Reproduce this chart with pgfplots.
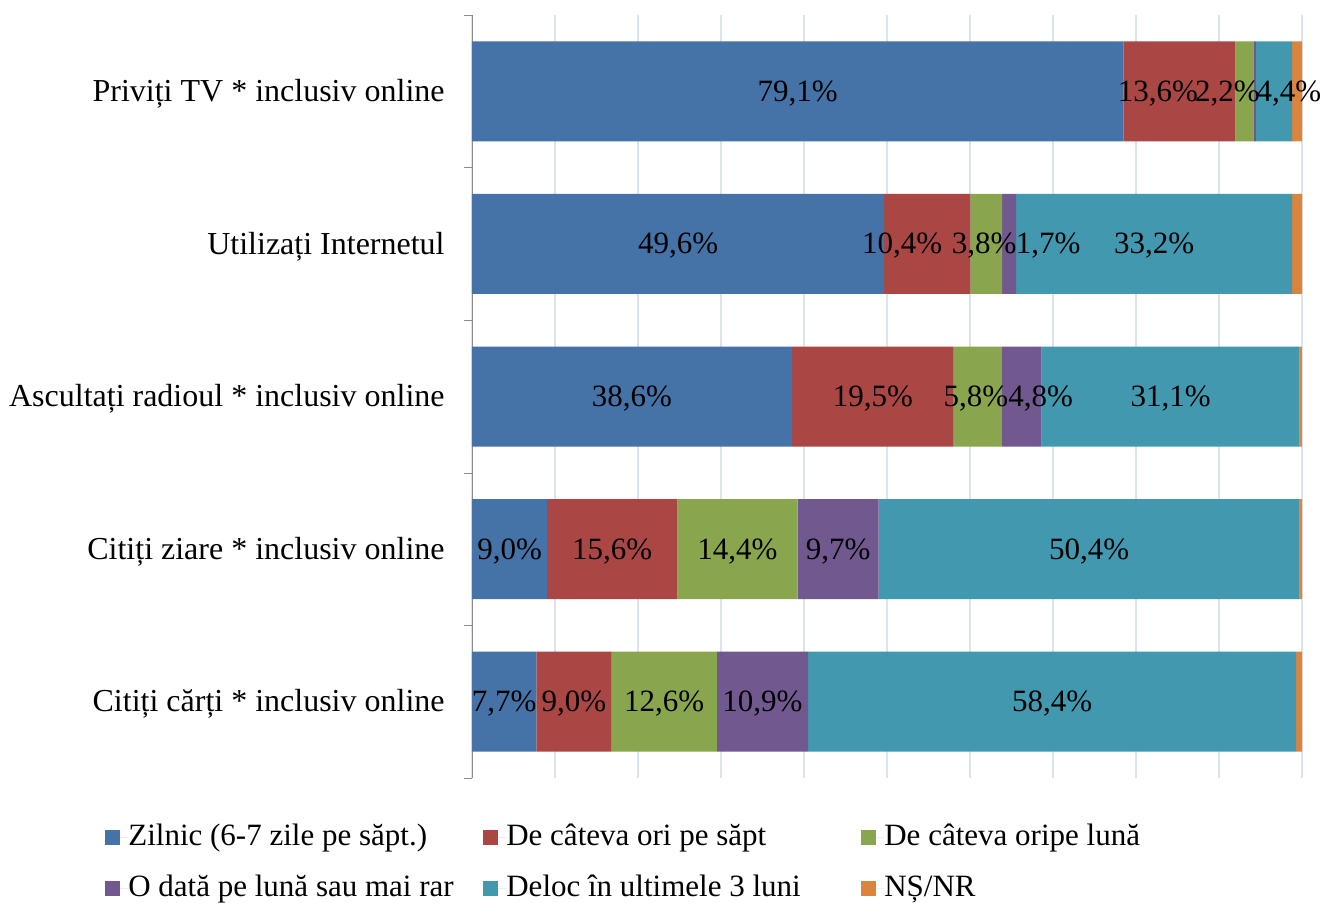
\documentclass[border=0pt]{standalone}
\usepackage{fontspec}
\setmainfont{Liberation Serif}
\usepackage{pgfplots}
\usepackage{pgfplotstable}
\pgfplotsset{compat=1.18}

\definecolor{cA}{HTML}{4572A7}
\definecolor{cB}{HTML}{AA4643}
\definecolor{cC}{HTML}{89A54E}
\definecolor{cD}{HTML}{71588F}
\definecolor{cE}{HTML}{4198AF}
\definecolor{cF}{HTML}{DB843D}
\definecolor{gridc}{HTML}{DCE3F0}

% values (%), row total, and label offsets (pt) used to avoid overlaps as in the original
\pgfplotstableread{
y a b c d e f tot sa sb sc sd se
4 79.1 13.6 2.2 0.3 4.4 1.2 100.8 0 -10.75 -8.5 0 7.5
3 49.6 10.4 3.8 1.7 33.2 1.2 99.9 0 -12.5 -1 19.5 0
2 38.6 19.5 5.8 4.8 31.1 0.3 100.1 0 0 -1 9.5 0
1 9.0 15.6 14.4 9.7 50.4 0.3 99.4 0 0 0 0 0
0 7.7 9.0 12.6 10.9 58.4 0.7 99.3 0 0 0 0 0
}\data

\pgfplotsset{
  lab/.style={
    point meta=\thisrow{#1},
    visualization depends on={\thisrow{s#1} \as \dx},
    nodes near coords={\pgfkeys{/pgf/fpu=true}\pgfmathparse{\pgfplotspointmeta<1}\pgfmathfloattofixed{\pgfmathresult}\pgfkeys{/pgf/fpu=false}\ifdim\pgfmathresult pt>0.5pt\relax\else\pgfmathprintnumber[fixed,fixed zerofill,precision=1,use comma,assume math mode=true]{\pgfplotspointmeta}\%\fi},
    every node near coord/.style={anchor=center, text=black, inner sep=0pt, xshift=\dx pt, yshift=-1pt},
  }
}

\begin{document}
\fontsize{15.5}{18}\selectfont
\begin{tikzpicture}
\begin{axis}[
  at={(0,0)}, anchor=south west,
  scale only axis, width=415pt, height=381.5pt,
  xbar stacked, bar width=50pt,
  xmin=0, xmax=100, ymin=-0.5, ymax=4.5,
  clip=false,
  axis lines*=left,
  x axis line style={draw=none},
  y axis line style={draw=black!45},
  xtick={0,10,...,100}, xticklabels={},
  x tick style={draw=none},
  xmajorgrids, major x grid style={draw=gridc, line width=0.8pt},
  ytick={0,1,2,3,4},
  yticklabels={Citiți cărți * inclusiv online, Citiți ziare * inclusiv online, Ascultați radioul * inclusiv online, Utilizați Internetul, Priviți TV * inclusiv online},
  minor ytick={-0.5,0.5,1.5,2.5,3.5,4.5},
  tick align=outside,
  major tick length=0pt, minor tick length=4pt,
  minor y tick style={draw=black!45},
  yticklabel style={anchor=east, inner sep=0pt, xshift=-13.5pt, yshift=-1.2pt, font=\fontsize{16}{18}\selectfont},
  legend columns=3,
  legend style={at={(-0.4422,-0.059)}, anchor=north west, draw=none, fill=none,
    inner sep=0pt, column sep=0pt, row sep=11pt,
    cells={anchor=west},
    nodes={inner sep=0pt, text height=11pt, text depth=3.5pt}},
  legend image code/.code={\fill[#1] (0pt,-3.75pt) rectangle (7.5pt,3.75pt); \path (0pt,0pt) -- (11.5pt,0pt);},
]
\addplot[fill=cA, draw=none, lab=a] table[x expr=\thisrow{a}*100/\thisrow{tot}, y=y]{\data};
\addplot[fill=cB, draw=none, lab=b] table[x expr=\thisrow{b}*100/\thisrow{tot}, y=y]{\data};
\addplot[fill=cC, draw=none, lab=c] table[x expr=\thisrow{c}*100/\thisrow{tot}, y=y]{\data};
\addplot[fill=cD, draw=none, lab=d] table[x expr=\thisrow{d}*100/\thisrow{tot}, y=y]{\data};
\addplot[fill=cE, draw=none, lab=e] table[x expr=\thisrow{e}*100/\thisrow{tot}, y=y]{\data};
\addplot[fill=cF, draw=none] table[x expr=\thisrow{f}*100/\thisrow{tot}, y=y]{\data};
\legend{\makebox[177.5pt][l]{Zilnic (6-7 zile pe săpt.)},
        \makebox[177.5pt][l]{De câteva ori pe săpt},
        \makebox[177.5pt][l]{De câteva oripe lună},
        \makebox[177.5pt][l]{O dată pe lună sau mai rar},
        \makebox[177.5pt][l]{Deloc în ultimele 3 luni},
        \makebox[177.5pt][l]{NȘ/NR}}
\end{axis}
\pgfresetboundingbox
\path[use as bounding box] (-236pt,-62pt) rectangle (425.5pt,389pt);
\end{tikzpicture}
\end{document}
